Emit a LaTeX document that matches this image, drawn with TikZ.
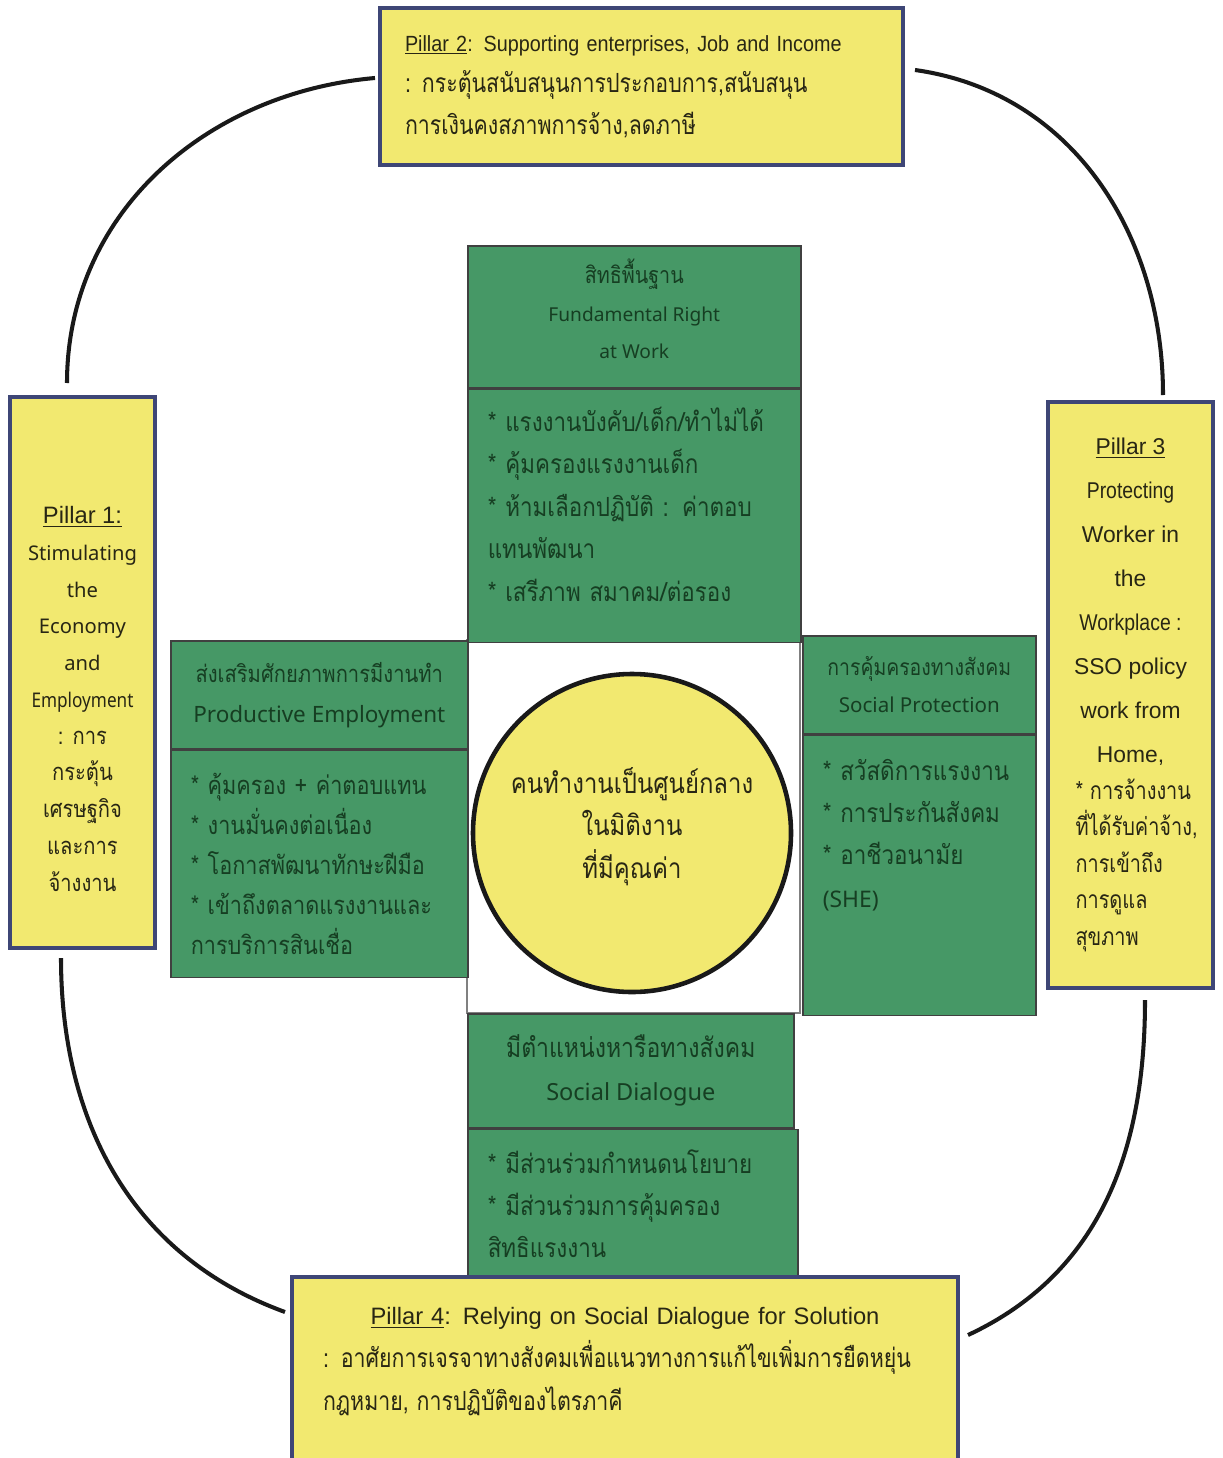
\documentclass[tikz,border=0pt]{standalone}
\usepackage{fontspec}
\setmainfont{Liberation Sans}
\newfontfamily\thaifont[Script=Thai,FakeStretch=0.85]{Loma}
\newfontfamily\thainarrow[Script=Thai,FakeStretch=0.81]{Loma}
\newfontfamily\arialnarrow[FakeStretch=0.9]{Liberation Sans}
\newfontfamily\greenlatin{Noto Sans}
\usetikzlibrary{positioning}
\definecolor{pillaryellow}{RGB}{242,233,112}
\definecolor{pillarblue}{RGB}{62,70,118}
\definecolor{pillartext}{RGB}{40,38,20}
\definecolor{boxgreen}{RGB}{70,152,102}
\definecolor{greentext}{RGB}{22,62,34}
\tikzstyle{pillar} = [rectangle, draw=pillarblue, line width=2.4pt, fill=pillaryellow, text=pillartext, inner sep=0pt]
\tikzstyle{greenhead} = [rectangle, draw=black!75, line width=0.9pt, fill=boxgreen, text=greentext, align=center, inner sep=0pt, font=\thaifont\fontsize{13}{21.5}\selectfont]
\tikzstyle{greenbody} = [rectangle, draw=black!75, line width=0.9pt, fill=boxgreen, text=greentext, align=left, inner xsep=0.4cm, inner ysep=0pt, font=\thaifont\fontsize{15}{24.2}\selectfont]
\tikzstyle{loopline} = [line width=2.3pt, black!90]

\begin{document}
\begin{tikzpicture}
            \useasboundingbox (0,0) rectangle (24.46,-29.16);
            % centre square and circle
            \draw[fill=white, draw=black!50, line width=0.6pt] (9.34,-12.8) rectangle (16.0,-20.26);
            \node[circle, draw=black!90, line width=2.6pt, fill=pillaryellow, minimum size=6.36cm, align=center, text=pillartext, font=\thaifont\fontsize{16}{24}\selectfont] (core) at (12.64,-16.66) {คนทำงานเป็นศูนย์กลาง\\ ในมิติงาน\\ ที่มีคุณค่า\\[-12.6pt] \mbox{}};
            % four green blocks
            \node[greenhead, minimum width=6.66cm, minimum height=2.84cm, anchor=north west, font=\thaifont\fontsize{13.2}{21.3}\selectfont] (hdTop) at (9.34,-4.9) {สิทธิพื้นฐาน\\ {\greenlatin\fontsize{10.9}{21.3}\selectfont Fundamental Right}\\ {\greenlatin\fontsize{10.9}{21.3}\selectfont at Work}\\[-12.3pt] \mbox{}};
            \node[greenbody, text width=5.86cm, minimum height=5.06cm, below=0pt of hdTop] (bdTop) {{*} แรงงานบังคับ/เด็ก/ทำไม่ได้\\ {*} คุ้มครองแรงงานเด็ก\\ {*} ห้ามเลือกปฏิบัติ : ค่าตอบ\\ แทนพัฒนา\\ {*} เสรีภาพ สมาคม/ต่อรอง\\[-10.6pt] \mbox{}};
            \node[greenhead, minimum width=5.94cm, minimum height=2.16cm, anchor=north west, font=\thaifont\fontsize{13.5}{22.8}\selectfont] (hdLeft) at (3.4,-12.8) {ส่งเสริมศักยภาพการมีงานทำ\\ {\greenlatin\fontsize{12.8}{22.8}\selectfont Productive Employment}};
            \node[greenbody, text width=5.14cm, minimum height=4.54cm, below=0pt of hdLeft, font=\thaifont\fontsize{14.5}{22.8}\selectfont] (bdLeft) {{*} คุ้มครอง + ค่าตอบแทน\\ {*} งานมั่นคงต่อเนื่อง\\ {*} โอกาสพัฒนาทักษะฝีมือ\\ {*} เข้าถึงตลาดแรงงานและ\\ การบริการสินเชื่อ};
            \node[greenhead, minimum width=4.66cm, minimum height=1.96cm, anchor=north west, font=\thaifont\fontsize{13}{21}\selectfont] (hdRight) at (16.04,-12.7) {การคุ้มครองทางสังคม\\ {\greenlatin\fontsize{11.7}{21}\selectfont Social Protection}};
            \node[greenbody, text width=3.86cm, minimum height=5.6cm, below=0pt of hdRight, font=\thaifont\fontsize{15}{24}\selectfont] (bdRight) {{*} สวัสดิการแรงงาน\\ {*} การประกันสังคม\\ {*} อาชีวอนามัย\\ {\greenlatin\fontsize{13}{24}\selectfont (SHE)}\\ ~\\ ~};
            \node[greenhead, minimum width=6.52cm, minimum height=2.28cm, anchor=north west, font=\thaifont\fontsize{15.4}{24.5}\selectfont] (hdBottom) at (9.34,-20.26) {มีตำแหน่งหารือทางสังคม\\ {\greenlatin\fontsize{13.4}{24.5}\selectfont Social Dialogue}};
            \node[greenbody, text width=5.8cm, minimum height=2.96cm, below=0pt of hdBottom.south west, anchor=north west, font=\thaifont\fontsize{15}{24}\selectfont] (bdBottom) {{*} มีส่วนร่วมกำหนดนโยบาย\\ {*} มีส่วนร่วมการคุ้มครอง\\ สิทธิแรงงาน};
            % the four pillars
            \node[pillar, minimum width=10.46cm, minimum height=3.14cm, text width=9.46cm, align=left, font=\fontsize{12.5}{23.6}\selectfont] (p2) at (12.83,-1.73) {{\arialnarrow\underline{Pillar 2}: Supporting enterprises, Job and Income}\\ {\thainarrow\fontsize{15}{23.6}\selectfont : กระตุ้นสนับสนุนการประกอบการ,สนับสนุน}\\ {\thainarrow\fontsize{15}{23.6}\selectfont การเงินคงสภาพการจ้าง,ลดภาษี}};
            \node[pillar, minimum width=2.9cm, minimum height=11.02cm, align=center, font=\thaifont\fontsize{13.5}{20.9}\selectfont] (p1) at (1.65,-13.45) {\rule{0pt}{1.4cm}{\fontsize{13.5}{20.9}\selectfont\fontspec{Liberation Sans}\underline{Pillar 1:}}\\ {\greenlatin\fontsize{11.5}{20.9}\selectfont Stimulating}\\ {\greenlatin\fontsize{11.5}{20.9}\selectfont the}\\ {\greenlatin\fontsize{11.5}{20.9}\selectfont Economy}\\ {\greenlatin\fontsize{11.5}{20.9}\selectfont and}\\ {\greenlatin\fontsize{11.5}{20.9}\selectfont\scalebox{0.85}[1]{Employment}}\\ : การ\\ กระตุ้น\\ เศรษฐกิจ\\ และการ\\ จ้างงาน};
            \node[pillar, minimum width=3.3cm, minimum height=11.72cm, align=center, font=\fontsize{13}{25}\selectfont] (p3) at (22.61,-13.9) {\underline{Pillar 3}\\ \scalebox{0.85}[1]{Protecting}\\ Worker in\\ the\\ \scalebox{0.85}[1]{Workplace :}\\ SSO policy\\ work from\\ Home,\\[-4pt] \makebox[2.2cm][l]{\thainarrow\fontsize{14}{20.8}\selectfont {*} การจ้างงาน}\\[-4.2pt] \makebox[2.2cm][l]{\thainarrow\fontsize{14}{20.8}\selectfont ที่ได้รับค่าจ้าง,}\\[-4.2pt] \makebox[2.2cm][l]{\thainarrow\fontsize{14}{20.8}\selectfont การเข้าถึง}\\[-4.2pt] \makebox[2.2cm][l]{\thainarrow\fontsize{14}{20.8}\selectfont การดูแล}\\[-4.2pt] \makebox[2.2cm][l]{\thainarrow\fontsize{14}{20.8}\selectfont สุขภาพ}};
            \node[pillar, minimum width=13.32cm, minimum height=3.72cm, text width=12.08cm, align=left, anchor=north, font=\fontsize{13.5}{24.5}\selectfont] (p4) at (12.5,-25.5) {\makebox[12.08cm][c]{\underline{Pillar 4}: Relying on Social Dialogue for Solution}\\ {\thainarrow\fontsize{15}{24.5}\selectfont : อาศัยการเจรจาทางสังคมเพื่อแนวทางการแก้ไขเพิ่มการยืดหยุ่น}\\ {\thainarrow\fontsize{15}{24.5}\selectfont กฎหมาย, การปฏิบัติของไตรภาคี}\\[-12pt] \mbox{}};
            % loose ends of the ring
            \coordinate (ringA1) at (7.5,-1.56);
            \coordinate (ringA2) at (1.34,-7.66);
            \coordinate (ringB1) at (18.3,-1.4);
            \coordinate (ringB2) at (23.26,-7.9);
            \coordinate (ringC1) at (1.22,-19.16);
            \coordinate (ringC2) at (5.7,-26.24);
            \coordinate (ringD1) at (22.9,-20.0);
            \coordinate (ringD2) at (19.36,-26.7);
            \draw[loopline] (ringA1) to[out=185, in=90] (ringA2);
            \draw[loopline] (ringB1) to[out=-8, in=90] (ringB2);
            \draw[loopline] (ringC1) to[out=-90, in=160] (ringC2);
            \draw[loopline] (ringD1) to[out=-90, in=25] (ringD2);
        \end{tikzpicture}
\end{document}
